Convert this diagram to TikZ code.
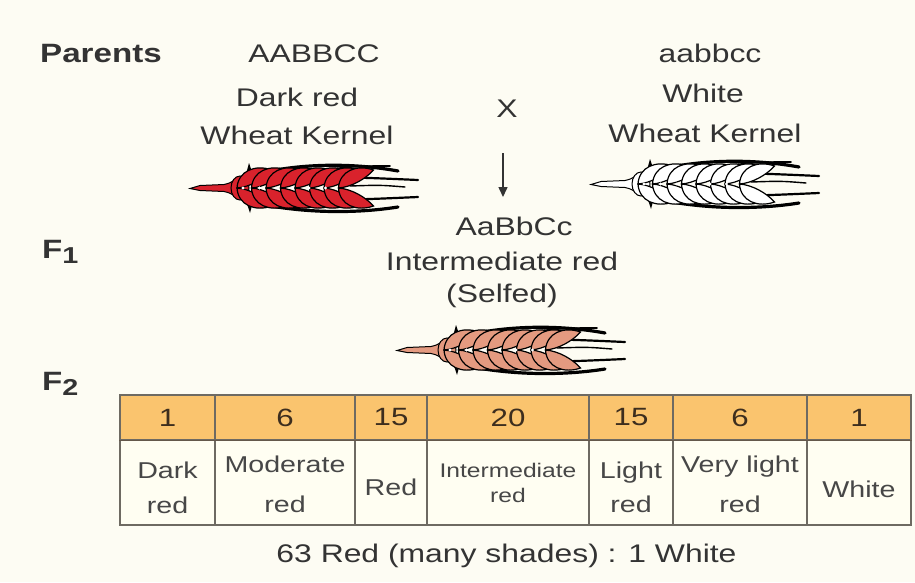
\documentclass[tikz,border=0pt]{standalone}
\usepackage{fontspec}
\setmainfont[FakeStretch=1.25]{Liberation Sans}
\usetikzlibrary{arrows.meta}

\definecolor{bgcol}{HTML}{FDFCF3}
\definecolor{inkgray}{HTML}{333333}
\definecolor{cellgray}{HTML}{474747}
\definecolor{headfill}{HTML}{FAC46E}
\definecolor{headink}{HTML}{3D2E1E}
\definecolor{bodyfill}{HTML}{FFFEF2}
\definecolor{gridline}{HTML}{6E6A62}
\definecolor{redear}{HTML}{D9222C}
\definecolor{pinkear}{HTML}{E49A80}

% an ear of wheat: stalk on the left, two rows of spikelets, awns to the right
\tikzset{
  pics/wheatear/.style={code={
    \begin{scope}[line cap=round, draw=black]
      \draw[line width=3.2pt] (70,-15) .. controls (120,-26) and (170,-24) .. (208,-17);
      \draw[line width=1.6pt] (140,-19) .. controls (170,-22) .. (200,-22);
      \draw[line width=2.2pt] (115,-9) .. controls (160,-11) .. (228,-8);
      \draw[line width=1.4pt] (160,-2) .. controls (190,-3) .. (215,-1);
      \draw[line width=2.2pt] (115,10) .. controls (160,12) .. (228,9);
      \draw[line width=3.2pt] (70,16) .. controls (120,26) and (170,25) .. (208,19);
    \end{scope}
    \filldraw[fill=#1, draw=black, line width=1pt]
      (0,0.5) -- (10,-2.5) -- (34,-3.5) .. controls (40,-5) .. (46,-9)
      -- (46,9) .. controls (40,5) .. (34,3.5) -- (10,2.5) -- cycle;
    \filldraw[fill=#1, draw=black, line width=1pt] (50,0) ellipse (9pt and 12pt);
    \fill[black] (55,-10) -- (59,-25) -- (64,-10) -- cycle;
    \fill[black] (55,10) -- (60,25) -- (64,10) -- cycle;
    \foreach \k in {0,...,7}{
      \filldraw[fill=#1, draw=black, line width=1.2pt]
        ({47+14.5*\k},0) .. controls ({48+14.5*\k},-17) and ({65+14.5*\k},-24) .. ({82+14.5*\k},-18)
        .. controls ({74+14.5*\k},-9) and ({60+14.5*\k},-1) .. cycle;
      \filldraw[fill=#1, draw=black, line width=1.2pt]
        ({47+14.5*\k},0) .. controls ({48+14.5*\k},17) and ({65+14.5*\k},24) .. ({82+14.5*\k},18)
        .. controls ({74+14.5*\k},9) and ({60+14.5*\k},1) .. cycle;
    }
    \foreach \k in {0,...,5}{
      \fill[white] ({53+16.5*\k},0) circle (1.7pt);
    }
  }}
}

\begin{document}
\begin{tikzpicture}[x=1pt, y=-1pt,
  txt/.style={anchor=base, inner sep=0pt, text=inkgray, font=\fontsize{25.5}{28}\selectfont},
  gen/.style={anchor=base west, inner sep=0pt, text=inkgray, font=\bfseries\fontsize{26.5}{28}\selectfont},
  hcell/.style={draw=gridline, line width=1.2pt, fill=headfill, inner sep=0pt,
    minimum height=45pt, text=headink, font=\fontsize{25}{28}\selectfont},
  bcell/.style={draw=gridline, line width=1.2pt, fill=bodyfill, inner sep=0pt,
    minimum height=85pt},
  ctxt/.style={anchor=base, inner sep=0pt, text=cellgray, font=\fontsize{22.9}{26}\selectfont},
  stxt/.style={anchor=base, inner sep=0pt, text=cellgray, font=\fontsize{19.7}{23}\selectfont}]

\path[fill=bgcol] (0,0) rectangle (915,582);

% generation labels
\node[gen] (par) at (40,62) {Parents};
\node[gen] (f1) at (42,258) {F\raisebox{-5pt}{\fontsize{23}{24}\selectfont 1}};
\node[gen] (f2) at (42,390) {F\raisebox{-5pt}{\fontsize{23}{24}\selectfont 2}};

% parents
\node[txt] (pa) at (314,62) {AABBCC};
\node[txt] (pa2) at (297,106) {Dark red};
\node[txt] (pa3) at (297,144) {Wheat Kernel};
\node[txt] (pb) at (710,62) {aabbcc};
\node[txt] (pb2) at (703,102) {White};
\node[txt] (pb3) at (705,142) {Wheat Kernel};
\node[txt] (cross) at (507,117) {X};

\pic (earA) at (190,188) {wheatear=redear};
\pic (earB) at (591,184) {wheatear=white};

% cross arrow
\coordinate (arrtop) at (503,153);
\coordinate (arrbot) at (503,197);
\draw[line width=1.5pt, draw=inkgray, -{Triangle[length=10pt,width=9pt]}] (arrtop) -- (arrbot);

% F1
\node[txt] (g1) at (514,235) {AaBbCc};
\node[txt] (g2) at (502,270) {Intermediate red};
\node[txt] (g3) at (502,302) {(Selfed)};
\pic (earF) at (397,350) {wheatear=pinkear};

% F2 table: header row
\node[hcell, minimum width=95pt]  (h1) at (167.5,417.5) {1};
\node[hcell, minimum width=140pt] (h2) at (285,417.5) {6};
\node[hcell, minimum width=72pt]  (h3) at (391,417.5) {15};
\node[hcell, minimum width=162pt] (h4) at (508,417.5) {20};
\node[hcell, minimum width=84pt]  (h5) at (631,417.5) {15};
\node[hcell, minimum width=134pt] (h6) at (740,417.5) {6};
\node[hcell, minimum width=104pt] (h7) at (859,417.5) {1};

% F2 table: phenotype row
\node[bcell, minimum width=95pt]  (b1) at (167.5,482.5) {};
\node[bcell, minimum width=140pt] (b2) at (285,482.5) {};
\node[bcell, minimum width=72pt]  (b3) at (391,482.5) {};
\node[bcell, minimum width=162pt] (b4) at (508,482.5) {};
\node[bcell, minimum width=84pt]  (b5) at (631,482.5) {};
\node[bcell, minimum width=134pt] (b6) at (740,482.5) {};
\node[bcell, minimum width=104pt] (b7) at (859,482.5) {};
\draw[draw=headink!80, line width=1.4pt] (h1.south west) -- (h7.south east);

\node[ctxt] (t1a) at (167.5,478) {Dark};
\node[ctxt] (t1b) at (167.5,513) {red};
\node[ctxt] (t2a) at (285,472) {Moderate};
\node[ctxt] (t2b) at (285,512) {red};
\node[ctxt] (t3a) at (391,495) {Red};
\node[stxt] (t4a) at (508,477) {Intermediate};
\node[stxt] (t4b) at (508,502) {red};
\node[ctxt] (t5a) at (631,478) {Light};
\node[ctxt] (t5b) at (631,512) {red};
\node[ctxt] (t6a) at (740,472) {Very light};
\node[ctxt] (t6b) at (740,512) {red};
\node[ctxt] (t7a) at (859,497) {White};

% ratio
\node[txt] (ratio) at (506.5,562) {63 Red (many shades) : 1 White};

\end{tikzpicture}
\end{document}
